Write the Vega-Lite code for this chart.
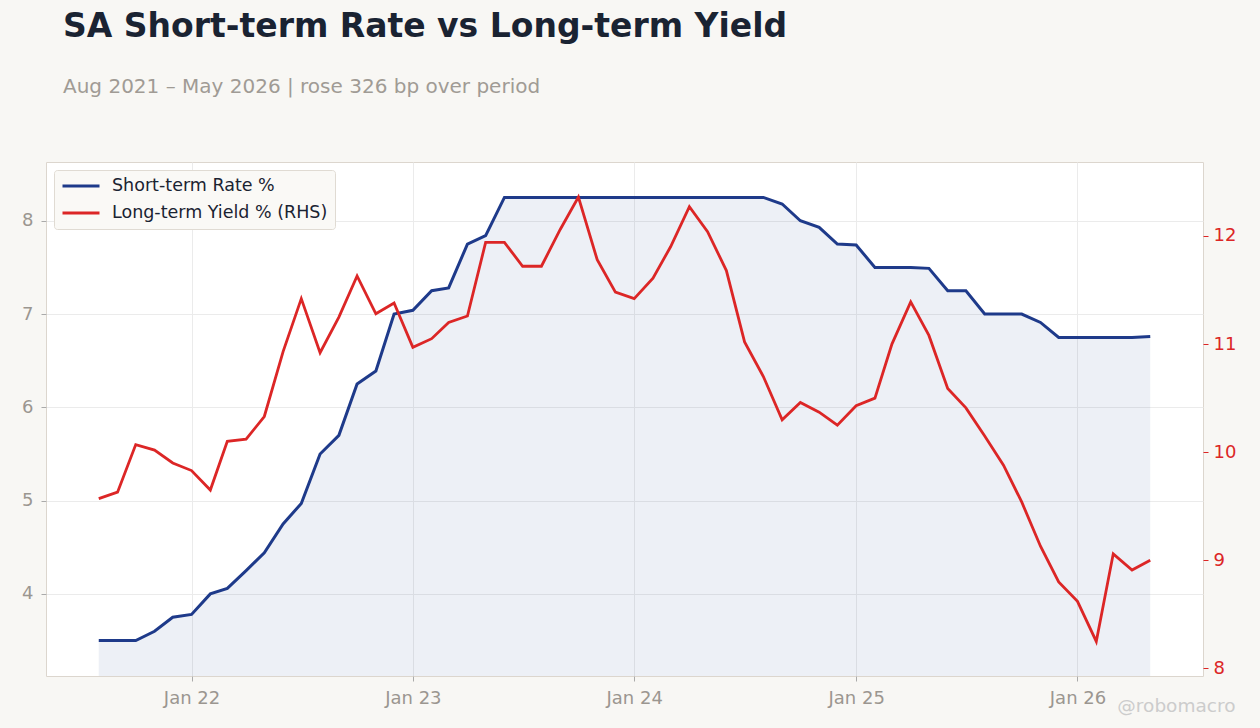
{
  "$schema": "https://vega.github.io/schema/vega-lite/v6.json",
  "width": 1157,
  "height": 514,
  "autosize": {"type": "none"},
  "padding": {"left": 46, "top": 162, "right": 57, "bottom": 52},
  "background": "#f8f7f4",
  "config": {
    "font": "DejaVu Sans",
    "view": {"fill": "#ffffff", "stroke": "#dcd6ce", "strokeWidth": 1}
  },
  "title": {
    "text": "SA Short-term Rate vs Long-term Yield",
    "subtitle": "Aug 2021 – May 2026 | rose 326 bp over period",
    "anchor": "start",
    "frame": "group",
    "dx": 17,
    "offset": 65,
    "fontSize": 33,
    "fontWeight": "bold",
    "color": "#1a2332",
    "subtitleFontSize": 20,
    "subtitleColor": "#a09b95",
    "subtitlePadding": 33
  },
  "data": {
    "values": [
      {"date": "2021-08-01", "short": 3.5, "long": 9.57},
      {"date": "2021-09-01", "short": 3.5, "long": 9.63},
      {"date": "2021-10-01", "short": 3.5, "long": 10.07},
      {"date": "2021-11-01", "short": 3.6, "long": 10.02},
      {"date": "2021-12-01", "short": 3.75, "long": 9.9},
      {"date": "2022-01-01", "short": 3.78, "long": 9.83},
      {"date": "2022-02-01", "short": 4.0, "long": 9.65},
      {"date": "2022-03-01", "short": 4.06, "long": 10.1},
      {"date": "2022-04-01", "short": 4.25, "long": 10.12},
      {"date": "2022-05-01", "short": 4.44, "long": 10.33},
      {"date": "2022-06-01", "short": 4.75, "long": 10.93},
      {"date": "2022-07-01", "short": 4.97, "long": 11.42},
      {"date": "2022-08-01", "short": 5.5, "long": 10.92},
      {"date": "2022-09-01", "short": 5.7, "long": 11.25},
      {"date": "2022-10-01", "short": 6.25, "long": 11.63},
      {"date": "2022-11-01", "short": 6.39, "long": 11.28},
      {"date": "2022-12-01", "short": 7.0, "long": 11.38},
      {"date": "2023-01-01", "short": 7.04, "long": 10.97},
      {"date": "2023-02-01", "short": 7.25, "long": 11.05},
      {"date": "2023-03-01", "short": 7.28, "long": 11.2},
      {"date": "2023-04-01", "short": 7.75, "long": 11.26},
      {"date": "2023-05-01", "short": 7.84, "long": 11.94},
      {"date": "2023-06-01", "short": 8.25, "long": 11.94},
      {"date": "2023-07-01", "short": 8.25, "long": 11.72},
      {"date": "2023-08-01", "short": 8.25, "long": 11.72},
      {"date": "2023-09-01", "short": 8.25, "long": 12.06},
      {"date": "2023-10-01", "short": 8.25, "long": 12.36},
      {"date": "2023-11-01", "short": 8.25, "long": 11.78},
      {"date": "2023-12-01", "short": 8.25, "long": 11.48},
      {"date": "2024-01-01", "short": 8.25, "long": 11.42},
      {"date": "2024-02-01", "short": 8.25, "long": 11.61},
      {"date": "2024-03-01", "short": 8.25, "long": 11.9},
      {"date": "2024-04-01", "short": 8.25, "long": 12.27},
      {"date": "2024-05-01", "short": 8.25, "long": 12.04},
      {"date": "2024-06-01", "short": 8.25, "long": 11.68},
      {"date": "2024-07-01", "short": 8.25, "long": 11.02},
      {"date": "2024-08-01", "short": 8.25, "long": 10.7},
      {"date": "2024-09-01", "short": 8.18, "long": 10.3},
      {"date": "2024-10-01", "short": 8.0, "long": 10.46},
      {"date": "2024-11-01", "short": 7.93, "long": 10.37},
      {"date": "2024-12-01", "short": 7.75, "long": 10.25},
      {"date": "2025-01-01", "short": 7.74, "long": 10.43},
      {"date": "2025-02-01", "short": 7.5, "long": 10.5},
      {"date": "2025-03-01", "short": 7.5, "long": 11.0},
      {"date": "2025-04-01", "short": 7.5, "long": 11.39},
      {"date": "2025-05-01", "short": 7.49, "long": 11.08},
      {"date": "2025-06-01", "short": 7.25, "long": 10.59},
      {"date": "2025-07-01", "short": 7.25, "long": 10.41},
      {"date": "2025-08-01", "short": 7.0, "long": 10.15},
      {"date": "2025-09-01", "short": 7.0, "long": 9.88},
      {"date": "2025-10-01", "short": 7.0, "long": 9.54},
      {"date": "2025-11-01", "short": 6.91, "long": 9.13},
      {"date": "2025-12-01", "short": 6.75, "long": 8.8},
      {"date": "2026-01-01", "short": 6.75, "long": 8.62},
      {"date": "2026-02-01", "short": 6.75, "long": 8.25},
      {"date": "2026-03-01", "short": 6.75, "long": 9.06},
      {"date": "2026-04-01", "short": 6.75, "long": 8.91},
      {"date": "2026-05-01", "short": 6.76, "long": 9.0}
    ]
  },
  "encoding": {
    "x": {
      "field": "date",
      "type": "temporal",
      "scale": {
        "type": "utc",
        "domain": [
          {"year": 2021, "month": 5, "date": 6, "utc": true},
          {"year": 2026, "month": 7, "date": 27, "utc": true}
        ]
      },
      "axis": {
        "values": [
          {"year": 2022, "month": 1, "date": 1, "utc": true},
          {"year": 2023, "month": 1, "date": 1, "utc": true},
          {"year": 2024, "month": 1, "date": 1, "utc": true},
          {"year": 2025, "month": 1, "date": 1, "utc": true},
          {"year": 2026, "month": 1, "date": 1, "utc": true}
        ],
        "format": "%b %y",
        "grid": true,
        "gridColor": "#ebebeb",
        "domain": false,
        "tickColor": "#aaaaaa",
        "tickSize": 5,
        "labelColor": "#9b9690",
        "labelFontSize": 18,
        "labelPadding": 8,
        "labelFlush": false,
        "title": "@robomacro",
        "titleColor": "#cccccc",
        "titleFontSize": 18.5,
        "titleFontWeight": "normal",
        "titleAnchor": "end",
        "titleAlign": "right",
        "titleBaseline": "middle",
        "titleX": 1189,
        "titleY": 29
      }
    }
  },
  "layer": [
    {
      "layer": [
        {
          "mark": {"type": "area", "color": "#1e3a8a", "opacity": 0.08, "clip": true},
          "encoding": {
            "y": {
              "field": "short",
              "type": "quantitative",
              "scale": {"domain": [3.12, 8.63], "zero": false, "nice": false},
              "axis": {
                "orient": "left",
                "values": [4, 5, 6, 7, 8],
                "format": "d",
                "grid": true,
                "gridColor": "#ebebeb",
                "domain": false,
                "tickColor": "#aaaaaa",
                "tickSize": 5,
                "labelColor": "#9b9690",
                "labelFontSize": 18,
                "labelPadding": 8,
                "title": null
              }
            }
          }
        },
        {
          "mark": {"type": "line", "strokeWidth": 3},
          "encoding": {
            "y": {"field": "short", "type": "quantitative"},
            "color": {
              "datum": "Short-term Rate %",
              "scale": {
                "domain": ["Short-term Rate %", "Long-term Yield % (RHS)"],
                "range": ["#1e3a8a", "#dc2626"]
              },
              "legend": {
                "orient": "top-left",
                "offset": 8,
                "title": null,
                "fillColor": "#faf9f6",
                "strokeColor": "#e0dbd3",
                "cornerRadius": 3,
                "padding": 7,
                "labelFontSize": 17.5,
                "labelColor": "#1a2332",
                "labelLimit": 0,
                "symbolType": "stroke",
                "symbolSize": 1369,
                "symbolStrokeWidth": 3,
                "labelOffset": 11,
                "clipHeight": 18,
                "rowPadding": 9
              }
            }
          }
        }
      ]
    },
    {
      "mark": {"type": "line", "strokeWidth": 2.8},
      "encoding": {
        "y": {
          "field": "long",
          "type": "quantitative",
          "scale": {"domain": [7.93, 12.684], "zero": false, "nice": false},
          "axis": {
            "orient": "right",
            "values": [8, 9, 10, 11, 12],
            "grid": false,
            "domain": false,
            "tickColor": "#dc2626",
            "tickSize": 5,
            "labelColor": "#dc2626",
            "labelFontSize": 18,
            "labelPadding": 5,
            "title": null
          }
        },
        "color": {"datum": "Long-term Yield % (RHS)"}
      }
    }
  ],
  "resolve": {"scale": {"y": "independent"}}
}
